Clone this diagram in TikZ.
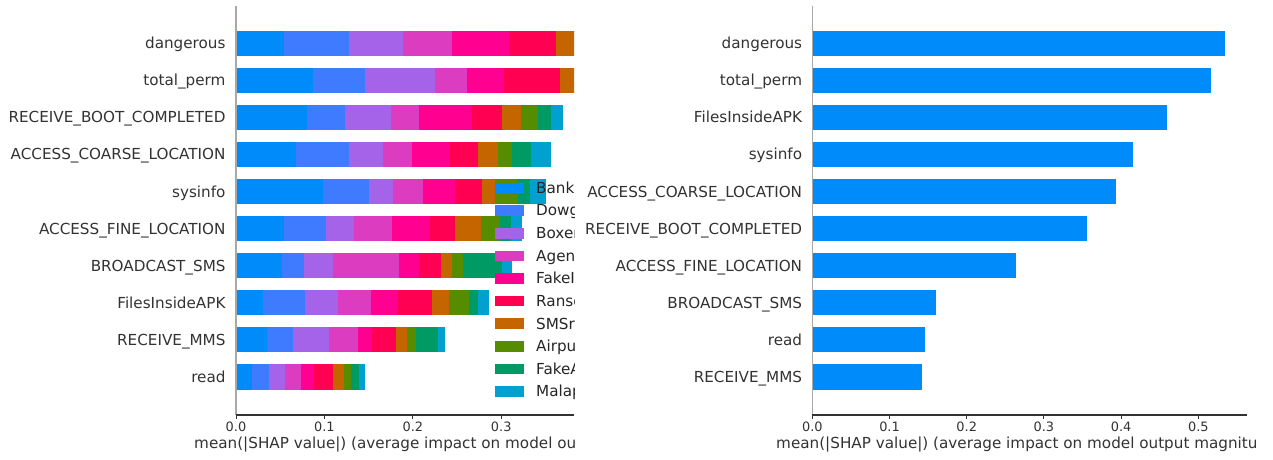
\documentclass[tikz,border=0pt]{standalone}
\usepackage{fontspec}
\setmainfont{DejaVu Sans}

% class colours
\definecolor{c1}{HTML}{008BFB}
\definecolor{c2}{HTML}{3E7BFF}
\definecolor{c3}{HTML}{A463E8}
\definecolor{c4}{HTML}{DC3CC0}
\definecolor{c5}{HTML}{FF0090}
\definecolor{c6}{HTML}{FF0052}
\definecolor{c7}{HTML}{C56500}
\definecolor{c8}{HTML}{568C00}
\definecolor{c9}{HTML}{009B64}
\definecolor{c10}{HTML}{00A0D0}
\definecolor{axisdark}{HTML}{333333}
\definecolor{spinegray}{HTML}{A8A8A8}

% row centre of bar number #1
\newcommand\rowy[1]{\pgfmathsetmacro\yc{43.3+37.05*#1}}

% stacked bar: #1 row index, #2 list of segment boundaries
\newcommand\stackbar[2]{%
  \rowy{#1}%
  \foreach \b [count=\i, remember=\b as \prev (initially 236)] in {#2}{%
    \ifnum\i>1
      \pgfmathtruncatemacro\ci{\i-1}%
      \fill[c\ci] (\prev,\yc-12.75) rectangle (\b,\yc+12.75);
    \fi
  }}

\begin{document}
\begin{tikzpicture}[x=1pt,y=-1pt,
  featlabel/.style={anchor=base east, inner sep=0pt, text=axisdark,
    font=\fontsize{15.2}{18}\selectfont},
  legtext/.style={anchor=base west, inner sep=0pt, text=black!85,
    font=\fontsize{15.2}{18}\selectfont},
  ticklabel/.style={anchor=base, inner sep=0pt, text=axisdark,
    font=\fontsize{12.9}{15}\selectfont},
  axlabel/.style={anchor=base west, inner sep=0pt, text=axisdark,
    font=\fontsize{15.2}{18}\selectfont},
  leftspine/.style={draw=spinegray, line width=1.1pt},
  bottomspine/.style={draw=axisdark, line width=1.1pt},
  tickmark/.style={draw=axisdark, line width=1pt}]

\useasboundingbox[fill=white] (0,0) rectangle (1273,459);

% ---------- left panel: per-class stacked bars ----------
\begin{scope}
  \clip (236,0) rectangle (574,459);
  \stackbar{0}{236,284,349,403,452,509.3,555.7,595,610,625,640}
  \stackbar{1}{236,313.3,365,434.7,467,504,560,595,610,625,640}
  \stackbar{2}{236,306.7,344.7,391,419.3,472,502.3,521.3,538.3,551,562.7}
  \stackbar{3}{236,296,349,383,411.7,450.3,478,497.7,511.7,531,551}
  \stackbar{4}{236,322.7,369.3,392.7,422.7,455,481.7,495,517.7,530,546}
  \stackbar{5}{236,284,326.3,353.7,392,430,455,480.7,500,511,522.3}
  \stackbar{6}{236,281.7,304,333.3,399,419,441,452,462.7,501.7,511.7}
  \stackbar{7}{236,263.3,305,338.3,370.7,397.7,432.3,449,469.3,477.7,489}
  \stackbar{8}{236,266.7,293.3,329,358,371.7,395.7,407.3,415.7,438.3,445.3}
  \stackbar{9}{236,252,269,285,301,314.3,333.3,343.7,351.3,359,365}

  % legend
  \foreach \n [count=\i] in {BankBot,Dowgin,Boxer,Agent,FakeInst,Ransomware,SMSreg,Airpush,FakeApp,Malap}{
    \pgfmathsetmacro\ly{188+22.63*(\i-1)}
    \fill[c\i] (495,\ly-5.3) rectangle (524,\ly+5.3);
    \node[legtext] (leg\i) at (536,\ly+5.3) {\n};
  }

  % axis title (runs past the panel edge)
  \node[axlabel] (lxlabel) at (194,448.3)
    {mean(|SHAP value|) (average impact on model output magnitude)};
\end{scope}
% the part of the title left of the panel clip
\begin{scope}
  \clip (0,430) rectangle (236,459);
  \node[axlabel] (lxlabelb) at (194,448.3)
    {mean(|SHAP value|) (average impact on model output magnitude)};
\end{scope}

% left feature names
\foreach \f [count=\i from 0] in {dangerous,total\_perm,RECEIVE\_BOOT\_COMPLETED,ACCESS\_COARSE\_LOCATION,sysinfo,ACCESS\_FINE\_LOCATION,BROADCAST\_SMS,FilesInsideAPK,RECEIVE\_MMS,read}{
  \rowy{\i}
  \node[featlabel] (lf\i) at (225.7,\yc+5.5) {\f};
}

% left axes
\draw[leftspine] (236,6) -- (236,415);
\draw[bottomspine] (235.5,415) -- (574,415);
\foreach \v [count=\i from 0] in {0.0,0.1,0.2,0.3}{
  \pgfmathsetmacro\tx{236+88.4*\i}
  \draw[tickmark] (\tx,415) -- (\tx,419);
  \node[ticklabel] (lt\i) at (\tx,431.5) {\v};
}

% ---------- right panel: overall bars ----------
\foreach \f/\e [count=\i from 0] in {dangerous/1225.3,total\_perm/1211,FilesInsideAPK/1167,sysinfo/1133.3,ACCESS\_COARSE\_LOCATION/1116,RECEIVE\_BOOT\_COMPLETED/1086.7,ACCESS\_FINE\_LOCATION/1016,BROADCAST\_SMS/935.7,read/925.3,RECEIVE\_MMS/922.3}{
  \rowy{\i}
  \fill[c1] (812.3,\yc-12.75) rectangle (\e,\yc+12.75);
  \node[featlabel] (rf\i) at (802.3,\yc+5.5) {\f};
}

\draw[leftspine] (812.3,6) -- (812.3,415);
\draw[bottomspine] (811.8,415) -- (1246.7,415);
\foreach \v [count=\i from 0] in {0.0,0.1,0.2,0.3,0.4,0.5}{
  \pgfmathsetmacro\tx{812.3+77.2*\i}
  \draw[tickmark] (\tx,415) -- (\tx,419);
  \node[ticklabel] (rt\i) at (\tx,431.5) {\v};
}

\begin{scope}
  \clip (600,430) rectangle (1255,459);
  \node[axlabel] (rxlabel) at (776,448.3)
    {mean(|SHAP value|) (average impact on model output magnitude)};
\end{scope}

\end{tikzpicture}
\end{document}
